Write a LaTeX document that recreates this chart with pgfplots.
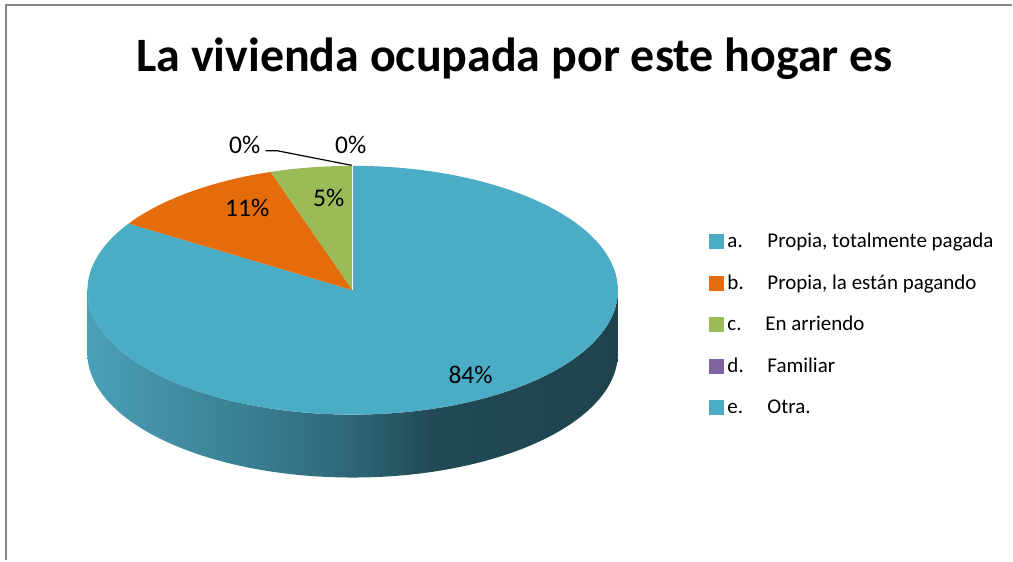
\documentclass[border=0pt]{standalone}
\usepackage{pgfplots}
\pgfplotsset{compat=1.18}
\usepackage{fontspec}
\setmainfont{Carlito}
\definecolor{cA}{HTML}{4BACC6}
\definecolor{cB}{HTML}{E46C0A}
\definecolor{cC}{HTML}{9BBB59}
\definecolor{cD}{HTML}{8064A2}
\definecolor{cE}{HTML}{4BACC6}
\definecolor{frame}{HTML}{868686}
\definecolor{s0}{HTML}{4AA0B8}
\definecolor{s1}{HTML}{4594AA}
\definecolor{s2}{HTML}{3A7F92}
\definecolor{s3}{HTML}{2E6676}
\definecolor{s4}{HTML}{214A56}
\definecolor{s5}{HTML}{1E434D}
\pgfdeclarehorizontalshading{pieside}{100bp}{color(0bp)=(s0); color(25bp)=(s0); color(30bp)=(s1); color(40bp)=(s2); color(50bp)=(s3); color(57.5bp)=(s4); color(75bp)=(s5); color(100bp)=(s5)}
\begin{document}
\begin{tikzpicture}
% data (percent)
\pgfmathsetmacro\va{84}
\pgfmathsetmacro\vb{11}
\pgfmathsetmacro\vc{5}
\pgfmathsetmacro\vd{0}
\pgfmathsetmacro\ve{0}
\pgfmathsetmacro\aA{90}
\pgfmathsetmacro\aB{\aA-3.6*\va}
\pgfmathsetmacro\aC{\aB-3.6*\vb}
\pgfmathsetmacro\aD{\aC-3.6*\vc}
\pgfmathsetmacro\aE{\aD-3.6*\vd}
\pgfmathsetmacro\aF{\aE-3.6*\ve}
\def\cx{353}
\def\cy{270.5}
\begin{axis}[hide axis, scale only axis, width=1013bp, height=561bp,
  xmin=0, xmax=1013, ymin=0, ymax=561, clip=false]
\path (axis cs:0,0) rectangle (axis cs:1013,561);
% frame
\draw[frame, line width=2bp] (axis cs:6.5,0) -- (axis cs:6.5,555.5) -- (axis cs:1013,555.5);
% title
\node[anchor=base, font=\bfseries\fontsize{48bp}{56bp}\selectfont] at (axis cs:515,489) {La vivienda ocupada por este hogar es};
% side wall
\path[shading=pieside] (axis cs:\cx,\cy) ++(180:265.5bp and 124.5bp)
  arc[start angle=180, end angle=360, x radius=265.5bp, y radius=124.5bp]
  -- ++(0,-63bp)
  arc[start angle=0, end angle=-180, x radius=265.5bp, y radius=124.5bp] -- cycle;
% top face slices
\fill[cA] (axis cs:\cx,\cy) -- ++(\aA:265.5bp and 124.5bp) arc[start angle=\aA, end angle=\aB, x radius=265.5bp, y radius=124.5bp] -- cycle;
\fill[cB] (axis cs:\cx,\cy) -- ++(\aB:265.5bp and 124.5bp) arc[start angle=\aB, end angle=\aC, x radius=265.5bp, y radius=124.5bp] -- cycle;
\fill[cC] (axis cs:\cx,\cy) -- ++(\aC:265.5bp and 124.5bp) arc[start angle=\aC, end angle=\aD, x radius=265.5bp, y radius=124.5bp] -- cycle;
\draw[white, line width=0.8bp] (axis cs:\cx,\cy) -- ++(\aA:265.5bp and 124.5bp);
% data labels
\begin{scope}[font=\fontsize{25.5bp}{30bp}\selectfont]
\node at (axis cs:471,186) {84\%};
\node at (axis cs:247.5,353) {11\%};
\node at (axis cs:329,363) {5\%};
\node at (axis cs:245,416) {0\%};
\node at (axis cs:351,416) {0\%};
\end{scope}
\draw[black, line width=1.2bp] (axis cs:266,410) -- (axis cs:278,410) -- (axis cs:352,395.5);
% legend
\begin{scope}[font=\fontsize{21bp}{25bp}\selectfont]
\fill[cA] (axis cs:710,311.5) rectangle (axis cs:725,326.5);
\node[anchor=base west, inner sep=0pt] at (axis cs:728,313) {a.};
\node[anchor=base west, inner sep=0pt] at (axis cs:768,313) {Propia, totalmente pagada};
\fill[cB] (axis cs:710,270) rectangle (axis cs:725,285);
\node[anchor=base west, inner sep=0pt] at (axis cs:728,271.5) {b.};
\node[anchor=base west, inner sep=0pt] at (axis cs:768,271.5) {Propia, la están pagando};
\fill[cC] (axis cs:710,228.5) rectangle (axis cs:725,243.5);
\node[anchor=base west, inner sep=0pt] at (axis cs:728,230) {c.};
\node[anchor=base west, inner sep=0pt] at (axis cs:766,230) {En arriendo};
\fill[cD] (axis cs:710,187) rectangle (axis cs:725,202);
\node[anchor=base west, inner sep=0pt] at (axis cs:728,188.5) {d.};
\node[anchor=base west, inner sep=0pt] at (axis cs:768,188.5) {Familiar};
\fill[cE] (axis cs:710,145.5) rectangle (axis cs:725,160.5);
\node[anchor=base west, inner sep=0pt] at (axis cs:728,147) {e.};
\node[anchor=base west, inner sep=0pt] at (axis cs:768,147) {Otra.};
\end{scope}
\end{axis}
\end{tikzpicture}
\end{document}
